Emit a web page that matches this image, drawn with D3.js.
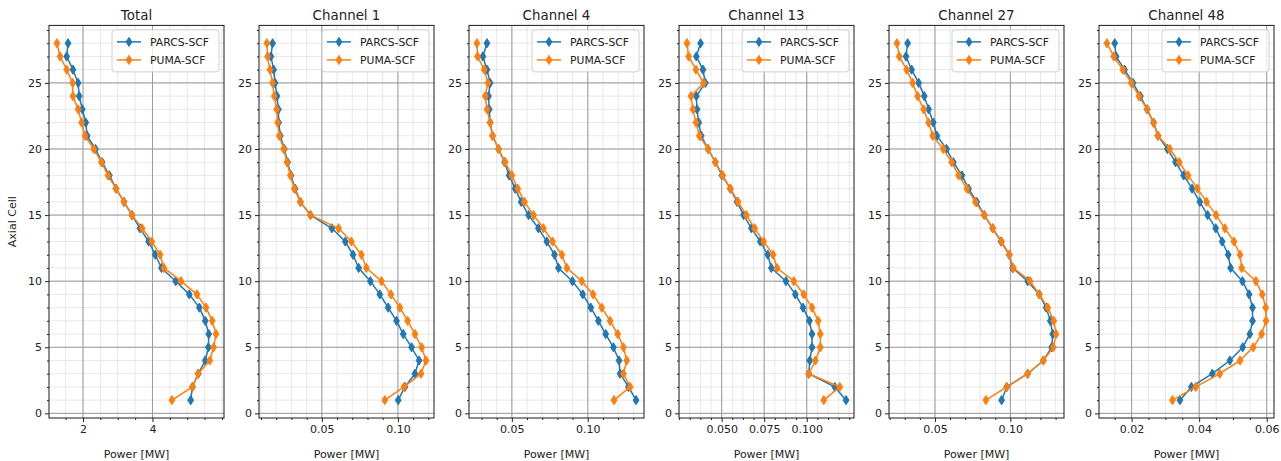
<!DOCTYPE html>
<html>
<head>
<meta charset="utf-8">
<script src="https://cdn.jsdelivr.net/npm/d3@7"></script>
<style>
  html, body { margin: 0; padding: 0; background: #fff; }
  svg { display: block; font-family: "DejaVu Sans", sans-serif; }
</style>
</head>
<body>
<svg id="chart" width="1281" height="461"></svg>
<script>
// Axial cells (bottom to top)
const cells = [1, 2, 3, 4, 5, 6, 7, 8, 9, 10, 11, 12, 13, 14, 15, 16, 17, 18, 19, 20, 21, 22, 23, 24, 25, 26, 27, 28];

const seriesNames = ["PARCS-SCF", "PUMA-SCF"];
const panelTitles = ["Total", "Channel 1", "Channel 4", "Channel 13", "Channel 27", "Channel 48"];

// Power [MW] per axial cell, cells 1..28
const totalParcs = [5.10, 5.15, 5.32, 5.52, 5.61, 5.62, 5.52, 5.35, 5.06, 4.67, 4.26, 4.08, 3.89, 3.64, 3.41, 3.18, 2.95, 2.76, 2.55, 2.36, 2.12, 2.08, 1.98, 1.89, 1.86, 1.71, 1.53, 1.57];
const totalPuma  = [4.56, 5.15, 5.31, 5.65, 5.76, 5.83, 5.72, 5.54, 5.28, 4.82, 4.33, 4.22, 3.98, 3.70, 3.41, 3.18, 2.95, 2.72, 2.53, 2.31, 2.06, 1.96, 1.86, 1.71, 1.70, 1.53, 1.34, 1.25];

const ch1Parcs = [0.1002, 0.1046, 0.1112, 0.1139, 0.1090, 0.1035, 0.0991, 0.0936, 0.0881, 0.0819, 0.0742, 0.0705, 0.0654, 0.0566, 0.0425, 0.0359, 0.0324, 0.0297, 0.0275, 0.0253, 0.0227, 0.0216, 0.0214, 0.0205, 0.0192, 0.0183, 0.0165, 0.0176];
const ch1Puma  = [0.0914, 0.1040, 0.1152, 0.1185, 0.1156, 0.1112, 0.1064, 0.1013, 0.0954, 0.0892, 0.0793, 0.0760, 0.0694, 0.0610, 0.0425, 0.0359, 0.0319, 0.0293, 0.0271, 0.0249, 0.0220, 0.0209, 0.0203, 0.0187, 0.0176, 0.0159, 0.0143, 0.0139];

const ch4Parcs = [0.1318, 0.1268, 0.1213, 0.1206, 0.1169, 0.1118, 0.1070, 0.1020, 0.0967, 0.0899, 0.0807, 0.0781, 0.0730, 0.0675, 0.0610, 0.0561, 0.0522, 0.0482, 0.0452, 0.0412, 0.0373, 0.0357, 0.0351, 0.0346, 0.0357, 0.0336, 0.0309, 0.0336];
const ch4Puma  = [0.1173, 0.1279, 0.1235, 0.1257, 0.1235, 0.1197, 0.1147, 0.1092, 0.1035, 0.0961, 0.0862, 0.0829, 0.0768, 0.0708, 0.0643, 0.0583, 0.0539, 0.0500, 0.0456, 0.0412, 0.0373, 0.0357, 0.0336, 0.0325, 0.0342, 0.0318, 0.0274, 0.0270];

const ch13Parcs = [0.1231, 0.1165, 0.1012, 0.1018, 0.1031, 0.1031, 0.1016, 0.0978, 0.0933, 0.0878, 0.0792, 0.0771, 0.0727, 0.0675, 0.0629, 0.0590, 0.0551, 0.0502, 0.0463, 0.0420, 0.0380, 0.0365, 0.0355, 0.0351, 0.0404, 0.0390, 0.0351, 0.0376];
const ch13Puma  = [0.1100, 0.1194, 0.1012, 0.1051, 0.1080, 0.1080, 0.1067, 0.1031, 0.0982, 0.0924, 0.0825, 0.0802, 0.0747, 0.0694, 0.0645, 0.0596, 0.0551, 0.0506, 0.0463, 0.0420, 0.0369, 0.0349, 0.0331, 0.0320, 0.0394, 0.0349, 0.0306, 0.0296];

const ch27Parcs = [0.0942, 0.0976, 0.1115, 0.1219, 0.1274, 0.1281, 0.1265, 0.1237, 0.1192, 0.1115, 0.1015, 0.0993, 0.0938, 0.0883, 0.0827, 0.0777, 0.0723, 0.0679, 0.0622, 0.0577, 0.0513, 0.0489, 0.0458, 0.0429, 0.0392, 0.0345, 0.0308, 0.0319];
const ch27Puma  = [0.0838, 0.0976, 0.1115, 0.1219, 0.1285, 0.1303, 0.1288, 0.1248, 0.1192, 0.1131, 0.1020, 0.0993, 0.0942, 0.0883, 0.0827, 0.0768, 0.0712, 0.0657, 0.0611, 0.0555, 0.0485, 0.0458, 0.0425, 0.0385, 0.0352, 0.0312, 0.0263, 0.0248];

const ch48Parcs = [0.0343, 0.0377, 0.0439, 0.0491, 0.0529, 0.0550, 0.0558, 0.0558, 0.0548, 0.0528, 0.0493, 0.0486, 0.0468, 0.0449, 0.0425, 0.0402, 0.0379, 0.0354, 0.0330, 0.0306, 0.0278, 0.0265, 0.0246, 0.0226, 0.0204, 0.0179, 0.0154, 0.0150];
const ch48Puma  = [0.0321, 0.0390, 0.0461, 0.0521, 0.0560, 0.0585, 0.0598, 0.0597, 0.0587, 0.0568, 0.0526, 0.0521, 0.0503, 0.0476, 0.0450, 0.0422, 0.0395, 0.0367, 0.0341, 0.0313, 0.0278, 0.0265, 0.0246, 0.0222, 0.0199, 0.0174, 0.0147, 0.0127];

// Tick values and labels
const yMajorTicks = [0, 5, 10, 15, 20, 25];
const totalTicks = [2, 4];
const totalTickLabels = ["2", "4"];
const ch1Ticks = [0.05, 0.10];
const ch1TickLabels = ["0.05", "0.10"];
const ch4Ticks = [0.05, 0.10];
const ch4TickLabels = ["0.05", "0.10"];
const ch13Ticks = [0.050, 0.075, 0.100];
const ch13TickLabels = ["0.050", "0.075", "0.100"];
const ch27Ticks = [0.05, 0.10];
const ch27TickLabels = ["0.05", "0.10"];
const ch48Ticks = [0.02, 0.04, 0.06];
const ch48TickLabels = ["0.02", "0.04", "0.06"];

// Minor tick step for each panel's x axis
const minorSteps = [0.5, 0.01, 0.01, 0.00625, 0.01, 0.005];

const panels = [
  { title: panelTitles[0], parcs: totalParcs, puma: totalPuma, ticks: totalTicks, labels: totalTickLabels, minor: minorSteps[0] },
  { title: panelTitles[1], parcs: ch1Parcs,  puma: ch1Puma,  ticks: ch1Ticks,  labels: ch1TickLabels,  minor: minorSteps[1] },
  { title: panelTitles[2], parcs: ch4Parcs,  puma: ch4Puma,  ticks: ch4Ticks,  labels: ch4TickLabels,  minor: minorSteps[2] },
  { title: panelTitles[3], parcs: ch13Parcs, puma: ch13Puma, ticks: ch13Ticks, labels: ch13TickLabels, minor: minorSteps[3] },
  { title: panelTitles[4], parcs: ch27Parcs, puma: ch27Puma, ticks: ch27Ticks, labels: ch27TickLabels, minor: minorSteps[4] },
  { title: panelTitles[5], parcs: ch48Parcs, puma: ch48Puma, ticks: ch48Ticks, labels: ch48TickLabels, minor: minorSteps[5] }
];

const colors = ["#1f77b4", "#ff7f0e"];

// Layout
const firstLeft = 49, panelStep = 210, panelW = 175;
const plotTop = 25.4, plotBottom = 418;
const tickFont = 11, titleFont = 13.4, legendFont = 10.8;

const svg = d3.select("#chart");

// Shared y scale with 5% padding around the cell range
const yPad = (d3.max(cells) - d3.min(cells)) * 0.05;
const y = d3.scaleLinear()
  .domain([d3.min(cells) - yPad, d3.max(cells) + yPad])
  .range([plotBottom, plotTop]);

const yMinorTicks = d3.range(0, 30, 1);

// Thin diamond marker
const diamond = "M0,-4.6L2.9,0L0,4.6L-2.9,0Z";

panels.forEach((p, i) => {
  const left = firstLeft + panelStep * i;
  const g = svg.append("g").attr("transform", `translate(${left},0)`);

  const all = p.parcs.concat(p.puma);
  const [lo, hi] = d3.extent(all);
  const xPad = (hi - lo) * 0.05;
  const x = d3.scaleLinear().domain([lo - xPad, hi + xPad]).range([0, panelW]);

  const xMinorTicks = d3.range(Math.ceil(x.domain()[0] / p.minor), Math.floor(x.domain()[1] / p.minor) + 1)
    .map(k => k * p.minor);

  const clipId = "clip" + i;
  g.append("clipPath").attr("id", clipId)
    .append("rect").attr("x", 0).attr("y", plotTop).attr("width", panelW).attr("height", plotBottom - plotTop);

  // Minor grid
  const minorGrid = g.append("g").attr("stroke", "#dedede").attr("stroke-width", 0.7).attr("clip-path", `url(#${clipId})`);
  xMinorTicks.forEach(v => {
    minorGrid.append("line").attr("x1", x(v)).attr("x2", x(v)).attr("y1", plotTop).attr("y2", plotBottom);
  });
  yMinorTicks.forEach(v => {
    minorGrid.append("line").attr("x1", 0).attr("x2", panelW).attr("y1", y(v)).attr("y2", y(v));
  });

  // Major grid
  const majorGrid = g.append("g").attr("stroke", "#9a9a9a").attr("stroke-width", 1).attr("clip-path", `url(#${clipId})`);
  p.ticks.forEach(v => {
    majorGrid.append("line").attr("x1", x(v)).attr("x2", x(v)).attr("y1", plotTop).attr("y2", plotBottom);
  });
  yMajorTicks.forEach(v => {
    majorGrid.append("line").attr("x1", 0).attr("x2", panelW).attr("y1", y(v)).attr("y2", y(v));
  });

  // Series
  const line = d3.line().x(d => x(d.v)).y(d => y(d.c));
  const plot = g.append("g").attr("clip-path", `url(#${clipId})`);
  [p.parcs, p.puma].forEach((vals, s) => {
    const pts = cells.map((c, k) => ({ c, v: vals[k] }));
    plot.append("path").datum(pts)
      .attr("d", line)
      .attr("fill", "none")
      .attr("stroke", colors[s])
      .attr("stroke-width", 1.5)
      .attr("stroke-linejoin", "round");
    plot.append("g").selectAll("path").data(pts).join("path")
      .attr("d", diamond)
      .attr("transform", d => `translate(${x(d.v)},${y(d.c)})`)
      .attr("fill", colors[s])
      .attr("stroke", colors[s])
      .attr("stroke-width", 1);
  });

  // Frame
  g.append("rect").attr("x", 0).attr("y", plotTop).attr("width", panelW).attr("height", plotBottom - plotTop)
    .attr("fill", "none").attr("stroke", "#1a1a1a").attr("stroke-width", 1);

  // X axis
  const xAxis = d3.axisBottom(x).tickValues(p.ticks).tickFormat((d, k) => p.labels[k]).tickSize(4).tickPadding(3);
  const xa = g.append("g").attr("transform", `translate(0,${plotBottom})`).call(xAxis);
  xa.select(".domain").remove();
  xa.selectAll("text").attr("font-size", tickFont).attr("font-family", "DejaVu Sans").attr("fill", "#222");
  xa.selectAll("line").attr("stroke", "#222");
  const xMinor = d3.axisBottom(x).tickValues(xMinorTicks.filter(v => !p.ticks.some(t => Math.abs(t - v) < 1e-9))).tickSize(2).tickFormat("");
  const xm = g.append("g").attr("transform", `translate(0,${plotBottom})`).call(xMinor);
  xm.select(".domain").remove();
  xm.selectAll("line").attr("stroke", "#222");

  // Y axis
  const yAxis = d3.axisLeft(y).tickValues(yMajorTicks).tickSize(4).tickPadding(3);
  const ya = g.append("g").call(yAxis);
  ya.select(".domain").remove();
  ya.selectAll("text").attr("font-size", tickFont).attr("font-family", "DejaVu Sans").attr("fill", "#222");
  ya.selectAll("line").attr("stroke", "#222");
  const yMinor = d3.axisLeft(y).tickValues(yMinorTicks.filter(v => v % 5 !== 0)).tickSize(2).tickFormat("");
  const ym = g.append("g").call(yMinor);
  ym.select(".domain").remove();
  ym.selectAll("line").attr("stroke", "#222");

  // Title and axis label
  g.append("text").attr("x", panelW / 2).attr("y", 20)
    .attr("text-anchor", "middle").attr("font-size", titleFont).attr("fill", "#222").text(p.title);
  g.append("text").attr("x", panelW / 2).attr("y", 458)
    .attr("text-anchor", "middle").attr("font-size", tickFont).attr("fill", "#222").text("Power [MW]");

  // Legend
  const lg = g.append("g").attr("transform", `translate(${panelW - 112},${plotTop + 4.5})`);
  lg.append("rect").attr("width", 107).attr("height", 42).attr("rx", 3)
    .attr("fill", "#fff").attr("fill-opacity", 0.8).attr("stroke", "#d0d0d0").attr("stroke-width", 1);
  seriesNames.forEach((name, s) => {
    const cy = 12 + s * 18;
    lg.append("line").attr("x1", 5).attr("x2", 29).attr("y1", cy).attr("y2", cy)
      .attr("stroke", colors[s]).attr("stroke-width", 1.5);
    lg.append("path").attr("d", diamond).attr("transform", `translate(17,${cy})`)
      .attr("fill", colors[s]).attr("stroke", colors[s]);
    lg.append("text").attr("x", 38).attr("y", cy).attr("dy", "0.35em")
      .attr("font-size", legendFont).attr("fill", "#222").text(name);
  });
});

// Shared y label
svg.append("text")
  .attr("transform", `translate(16,${(plotTop + plotBottom) / 2}) rotate(-90)`)
  .attr("text-anchor", "middle").attr("font-size", tickFont).attr("fill", "#222").text("Axial Cell");
</script>
</body>
</html>
